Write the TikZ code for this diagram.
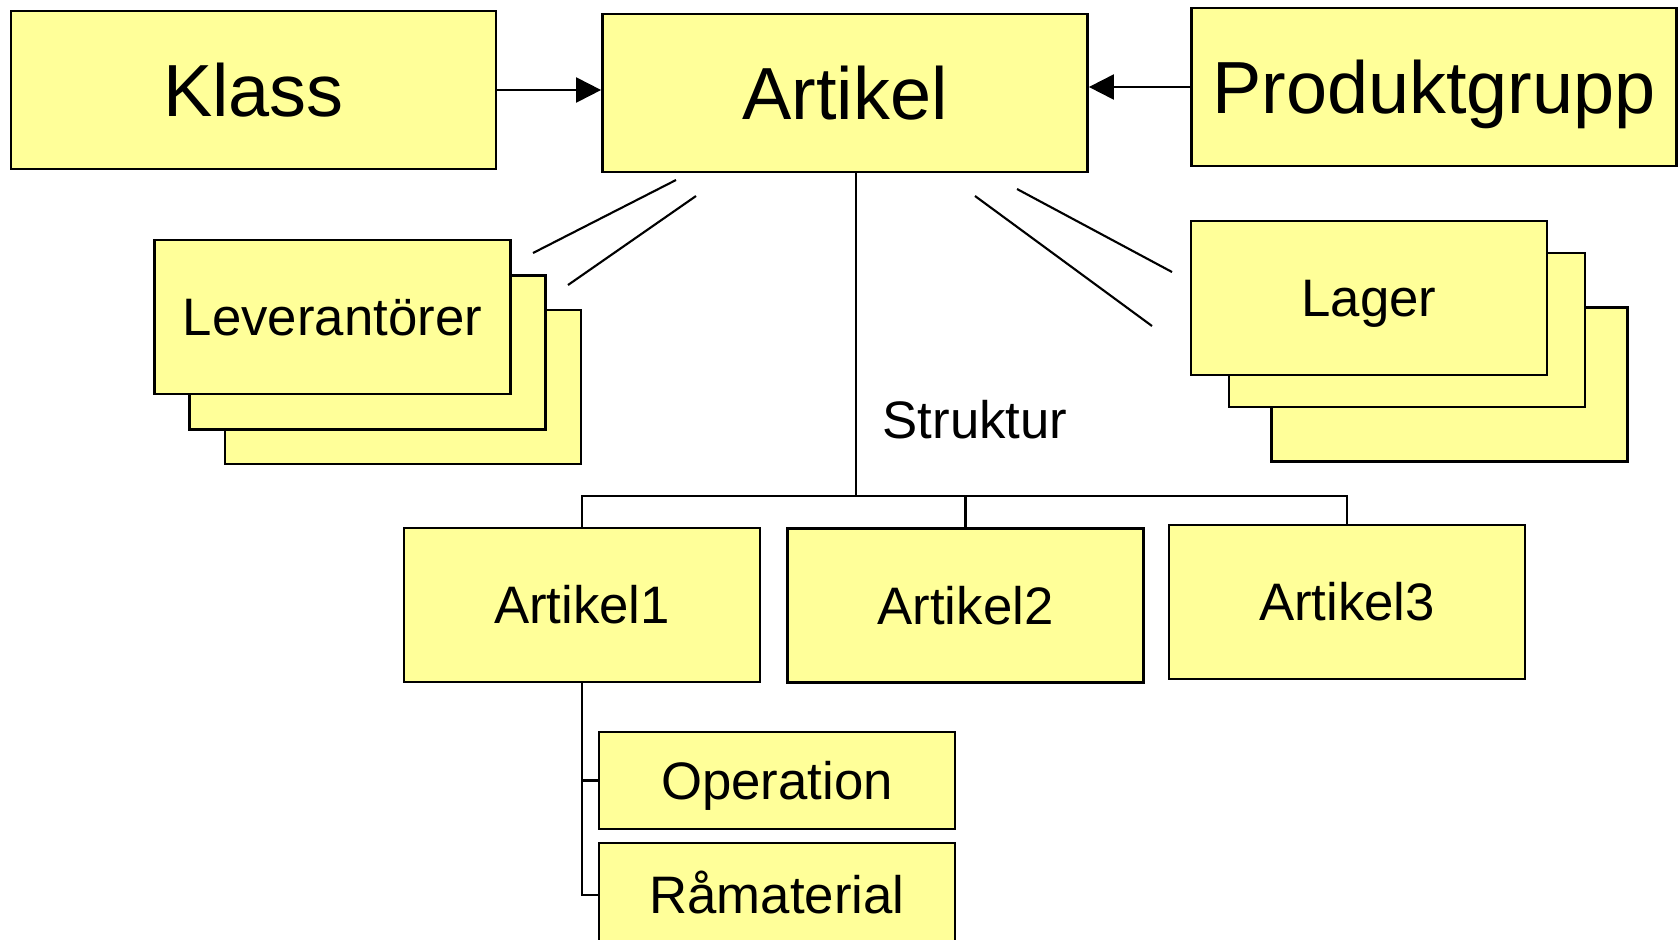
\documentclass[tikz,border=0pt]{standalone}
\usepackage{fontspec}
\setmainfont{Liberation Sans}
\usetikzlibrary{arrows.meta}
\definecolor{boxyellow}{RGB}{255,255,153}
\tikzset{
  box/.style={draw, fill=boxyellow, line width=0.7pt, inner sep=0pt,
    minimum width=3.56cm, minimum height=1.54cm,
    font=\fontsize{15}{18}\selectfont, text height=10.7pt, text depth=0pt},
  bigbox/.style={box, minimum width=4.85cm, minimum height=1.58cm,
    font=\fontsize{21}{25}\selectfont, text height=15pt},
  link/.style={line width=0.6pt},
  tip/.style={-{Triangle[length=0.25cm,width=0.25cm]}},
}

\begin{document}
\begin{tikzpicture}[x=0.01cm,y=-0.01cm]
        \useasboundingbox (0,0) rectangle (1679,939);
        \clip (0,0) rectangle (1679,939);
        % top row
        \node[bigbox] (klass) at (253.5,90) {Klass};
        \node[bigbox] (art) at (845,93) {Artikel};
        \node[bigbox] (prod) at (1434,87) {Produktgrupp};
        \draw[link,tip] (klass.east) -- (klass.east -| art.west);
        \draw[link,tip] (prod.west) -- (prod.west -| art.east);
        % stacked cards, back to front
        \node[box] (lev3) at (403,387) {};
        \node[box] (lev2) at (367.5,352.5) {};
        \node[box] (lev1) at (332.5,317) {Leverantörer};
        \node[box] (lag3) at (1449.5,384.5) {};
        \node[box] (lag2) at (1407,330) {};
        \node[box] (lag1) at (1369,298) {Lager};
        % loose strokes between Artikel and the stacks
        \coordinate (la1) at (533,253);  \coordinate (la2) at (676,180);
        \coordinate (lb1) at (568,285);  \coordinate (lb2) at (696,196);
        \coordinate (rc1) at (975,196);  \coordinate (rc2) at (1152,326);
        \coordinate (rd1) at (1017,189); \coordinate (rd2) at (1172,272);
        \draw[link] (la1) -- (la2);
        \draw[link] (lb1) -- (lb2);
        \draw[link] (rc1) -- (rc2);
        \draw[link] (rd1) -- (rd2);
        % structure tree
        \coordinate (fork) at (856,496);
        \node[font=\fontsize{15}{18}\selectfont, inner sep=0pt, anchor=west] (struk) at (882,420) {Struktur};
        \node[box] (a1) at (582,605) {Artikel1};
        \node[box] (a2) at (965.5,605.5) {Artikel2};
        \node[box] (a3) at (1347,602) {Artikel3};
        \draw[link] (fork |- art.south) -- (fork);
        \draw[link] (a1.north) |- (fork) -| (a3.north);
        \draw[link] (a2.north) -- (a2.north |- fork);
        \node[box, minimum height=0.97cm] (op) at (777,780.5) {Operation};
        \node[box, minimum height=1.04cm] (ram) at (777,895) {Råmaterial};
        \draw[link] (a1.south) |- (op.west);
        \draw[link] (a1.south) |- (ram.west);
\end{tikzpicture}
\end{document}
